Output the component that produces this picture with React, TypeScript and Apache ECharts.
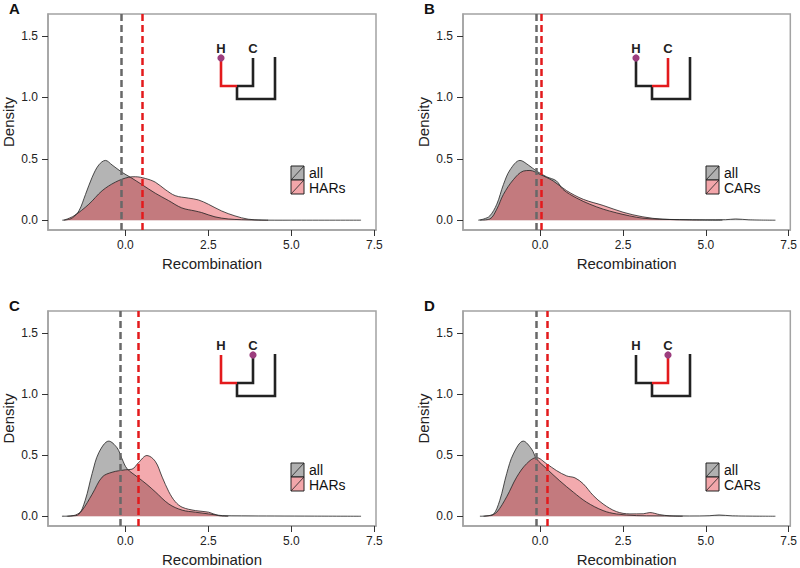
import React, { useEffect, useRef } from "react";
import * as echarts from "echarts";

const X_TICKS = [0, 2.5, 5, 7.5];
const Y_TICKS = [0, 0.5, 1.0, 1.5];

const panelLabels = ["A", "B", "C", "D"];
const groupNames = ["HARs", "CARs", "HARs", "CARs"];

const allA: [number, number][] = [
  [-1.9, 0], [-1.75, 0.004], [-1.6, 0.018], [-1.4, 0.075], [-1.2, 0.21], [-1.0, 0.35], [-0.8, 0.45],
  [-0.6, 0.487], [-0.4, 0.45], [-0.1, 0.39], [0.15, 0.35], [0.5, 0.29], [0.9, 0.22], [1.3, 0.16],
  [1.7, 0.1], [2.1, 0.075], [2.3, 0.062], [2.7, 0.027], [3.1, 0.01], [3.5, 0.004], [4.0, 0.001],
  [5.0, 0], [7.1, 0],
];
const harA: [number, number][] = [
  [-1.85, 0], [-1.55, 0.035], [-1.1, 0.13], [-0.7, 0.24], [-0.3, 0.31], [0.1, 0.35], [0.3, 0.354],
  [0.6, 0.34], [0.9, 0.31], [1.2, 0.25], [1.5, 0.2], [1.9, 0.18], [2.2, 0.165], [2.5, 0.13],
  [2.9, 0.075], [3.3, 0.035], [3.7, 0.008], [4.1, 0.001], [4.3, 0],
];
const allB: [number, number][] = [
  [-1.87, 0], [-1.7, 0.01], [-1.52, 0.035], [-1.31, 0.13], [-1.11, 0.29], [-0.91, 0.41], [-0.61, 0.487],
  [-0.36, 0.45], [-0.11, 0.4], [0.19, 0.354], [0.49, 0.32], [0.69, 0.25], [1.1, 0.18], [1.5, 0.13],
  [1.9, 0.09], [2.3, 0.06], [2.7, 0.035], [3.1, 0.016], [3.6, 0.008], [4.2, 0.005], [5.0, 0.003],
  [5.6, 0.004], [5.9, 0.01], [6.3, 0.003], [7.1, 0],
];
const carB: [number, number][] = [
  [-1.82, 0], [-1.52, 0.01], [-1.31, 0.09], [-1.11, 0.21], [-0.81, 0.33], [-0.51, 0.4], [-0.31, 0.405],
  [-0.01, 0.373], [0.39, 0.32], [0.8, 0.24], [1.3, 0.17], [1.9, 0.12], [2.5, 0.065], [3.1, 0.027],
  [3.7, 0.008], [4.5, 0.002], [5.5, 0],
];
const allC: [number, number][] = [
  [-1.91, 0], [-1.6, 0.003], [-1.41, 0.013], [-1.21, 0.13], [-1.0, 0.35], [-0.8, 0.52], [-0.5, 0.615],
  [-0.25, 0.56], [-0.1, 0.47], [0.05, 0.39], [0.37, 0.32], [0.65, 0.26], [0.9, 0.2], [1.31, 0.1],
  [1.71, 0.05], [2.11, 0.033], [2.51, 0.019], [2.92, 0.005], [3.5, 0.003], [4.5, 0.002], [5.7, 0.001],
  [7.1, 0],
];
const harC: [number, number][] = [
  [-1.75, 0], [-1.5, 0.01], [-1.31, 0.046], [-1.0, 0.18], [-0.7, 0.32], [-0.4, 0.36], [0, 0.38],
  [0.2, 0.385], [0.4, 0.44], [0.65, 0.497], [0.9, 0.45], [1.11, 0.32], [1.31, 0.2], [1.5, 0.12],
  [1.71, 0.074], [2.11, 0.046], [2.51, 0.033], [2.81, 0.005], [3.1, 0],
];
const allD: [number, number][] = [
  [-1.82, 0], [-1.6, 0.003], [-1.42, 0.013], [-1.22, 0.13], [-1.01, 0.35], [-0.81, 0.51], [-0.51, 0.615],
  [-0.26, 0.55], [-0.11, 0.47], [0.19, 0.39], [0.59, 0.29], [1.0, 0.197], [1.4, 0.115], [1.9, 0.046],
  [2.3, 0.019], [2.91, 0.005], [3.5, 0.003], [4.5, 0.002], [5.1, 0.004], [5.4, 0.01], [5.8, 0.003],
  [7.1, 0],
];
const carD: [number, number][] = [
  [-1.71, 0], [-1.5, 0.008], [-1.31, 0.033], [-1.01, 0.16], [-0.71, 0.32], [-0.41, 0.43], [-0.11, 0.48],
  [0.19, 0.43], [0.49, 0.374], [0.8, 0.33], [1.05, 0.314], [1.3, 0.265], [1.6, 0.17], [1.9, 0.1],
  [2.3, 0.038], [2.71, 0.019], [3.11, 0.02], [3.31, 0.03], [3.61, 0.013], [3.91, 0.003], [4.3, 0],
];

const allSeries = [allA, allB, allC, allD];
const groupSeries = [harA, carB, harC, carD];
const allMeans = [-0.13, -0.11, -0.15, -0.13];
const groupMeans = [0.52, 0.04, 0.38, 0.21];
// which branch is red (H or C) and where the dot sits
const redBranch = ["H", "C", "H", "C"];
const dotBranch = ["H", "H", "C", "C"];

const FONT = "Liberation Sans, Arial, sans-serif";
const GRAY_FILL = "rgba(105,105,105,0.5)";
const PINK_FILL = "rgba(222,20,30,0.36)";
const GRAY_KEY = "#b0b0b0";
const PINK_KEY = "#f3a6aa";
const RED = "#e31a1c";
const BOX = "#a3a3a3";

const GRIDS = [
  { left: 48, top: 14 },
  { left: 463, top: 14 },
  { left: 48, top: 311 },
  { left: 463, top: 311 },
];
const GW = 328;
const GH = 216;

function buildGraphics() {
  const els: any[] = [];
  GRIDS.forEach((g, i) => {
    const L = g.left;
    const T = g.top;
    els.push({
      type: "text",
      left: L - 39,
      top: T - 13,
      style: { text: panelLabels[i], font: `bold 15px ${FONT}`, fill: "#111" },
    });
    const kx = L + 243;
    const ky = T + 152;
    [GRAY_KEY, PINK_KEY].forEach((c, k) => {
      els.push({
        type: "rect",
        shape: { x: kx, y: ky + k * 14, width: 13, height: 14 },
        style: { fill: c, stroke: "#222", lineWidth: 1 },
      });
      els.push({
        type: "line",
        shape: { x1: kx, y1: ky + k * 14 + 14, x2: kx + 13, y2: ky + k * 14 },
        style: { stroke: "#222", lineWidth: 0.8 },
      });
    });
    els.push({
      type: "text",
      x: kx + 18,
      y: ky + 7,
      style: { text: "all", font: `14px ${FONT}`, fill: "#111", verticalAlign: "middle" },
    });
    els.push({
      type: "text",
      x: kx + 18,
      y: ky + 21.5,
      style: { text: groupNames[i], font: `14px ${FONT}`, fill: "#111", verticalAlign: "middle" },
    });
    const Hx = L + 173;
    const Cx = L + 205;
    const Mx = L + 189;
    const Ox = L + 227;
    const top = T + 44;
    const join = T + 72;
    const bottom = T + 85;
    const lw = 2.6;
    const hColor = redBranch[i] === "H" ? RED : "#222";
    const cColor = redBranch[i] === "C" ? RED : "#222";
    els.push({
      type: "polyline",
      shape: { points: [[Mx, join], [Mx, bottom], [Ox, bottom], [Ox, T + 43]] },
      style: { stroke: "#222", lineWidth: lw, fill: null },
    });
    const branches = [
      { pts: [[Hx, top], [Hx, join], [Mx, join]], c: hColor },
      { pts: [[Cx, top], [Cx, join], [Mx, join]], c: cColor },
    ].sort((a, b) => (a.c === RED ? 1 : 0) - (b.c === RED ? 1 : 0));
    branches.forEach((b) =>
      els.push({
        type: "polyline",
        shape: { points: b.pts },
        style: { stroke: b.c, lineWidth: lw, fill: null },
      })
    );
    els.push({
      type: "text",
      x: Hx,
      y: T + 34,
      style: { text: "H", font: `bold 13px ${FONT}`, fill: "#222", align: "center", verticalAlign: "middle" },
    });
    els.push({
      type: "text",
      x: Cx,
      y: T + 34,
      style: { text: "C", font: `bold 13px ${FONT}`, fill: "#222", align: "center", verticalAlign: "middle" },
    });
    els.push({
      type: "circle",
      shape: { cx: dotBranch[i] === "H" ? Hx : Cx, cy: top, r: 3.6 },
      style: { fill: "#9c3d7e" },
    });
  });
  return els;
}

export default function App() {
  const ref = useRef<HTMLDivElement>(null);
  useEffect(() => {
    document.body.style.margin = "0";
    if (!ref.current) return;
    const chart = echarts.init(ref.current, null, { renderer: "svg" });
    const grid = GRIDS.map((g) => ({
      left: g.left,
      top: g.top,
      width: GW,
      height: GH,
      show: true,
      borderColor: BOX,
      borderWidth: 1.5,
      backgroundColor: "transparent",
    }));
    const xAxis = GRIDS.map((_, i) => ({
      gridIndex: i,
      type: "value",
      min: -2.33,
      max: 7.55,
      axisLine: { show: true, onZero: false, lineStyle: { color: BOX, width: 1.5 } },
      splitLine: { show: false },
      axisTick: {
        show: true,
        inside: false,
        length: 6,
        lineStyle: { color: "#333", width: 1 },
        customValues: X_TICKS,
      },
      axisLabel: {
        customValues: X_TICKS,
        formatter: (v: number) => v.toFixed(1),
        margin: 9,
        fontSize: 12,
        color: "#222",
        fontFamily: FONT,
      },
      name: "Recombination",
      nameLocation: "middle",
      nameGap: 26,
      nameTextStyle: { fontSize: 15, color: "#222", fontFamily: FONT },
    }));
    const yAxis = GRIDS.map((_, i) => ({
      gridIndex: i,
      type: "value",
      min: -0.08,
      max: 1.68,
      axisLine: { show: true, onZero: false, lineStyle: { color: BOX, width: 1.5 } },
      splitLine: { show: false },
      axisTick: {
        show: true,
        inside: false,
        length: 6,
        lineStyle: { color: "#333", width: 1 },
        customValues: Y_TICKS,
      },
      axisLabel: {
        customValues: Y_TICKS,
        formatter: (v: number) => v.toFixed(1),
        margin: 10,
        fontSize: 12,
        color: "#222",
        fontFamily: FONT,
      },
      name: "Density",
      nameLocation: "middle",
      nameGap: 32,
      nameTextStyle: { fontSize: 15, color: "#222", fontFamily: FONT },
    }));
    const series: any[] = [];
    GRIDS.forEach((_, i) => {
      series.push({
        type: "line",
        xAxisIndex: i,
        yAxisIndex: i,
        data: allSeries[i],
        smooth: 0.35,
        showSymbol: false,
        lineStyle: { color: "#222", width: 0.8 },
        areaStyle: { color: GRAY_FILL, opacity: 1 },
        markLine: {
          silent: true,
          symbol: ["none", "none"],
          label: { show: false },
          lineStyle: { color: "#686868", width: 2.5, type: [7, 4] },
          data: [{ xAxis: allMeans[i] }],
        },
      });
      series.push({
        type: "line",
        xAxisIndex: i,
        yAxisIndex: i,
        data: groupSeries[i],
        smooth: 0.35,
        showSymbol: false,
        lineStyle: { color: "#222", width: 0.8 },
        areaStyle: { color: PINK_FILL, opacity: 1 },
        markLine: {
          silent: true,
          symbol: ["none", "none"],
          label: { show: false },
          lineStyle: { color: RED, width: 2.5, type: [7, 4] },
          data: [{ xAxis: groupMeans[i] }],
        },
      });
    });
    chart.setOption({
      animation: false,
      backgroundColor: "#ffffff",
      textStyle: { fontFamily: FONT },
      grid,
      xAxis,
      yAxis,
      series,
      graphic: buildGraphics(),
    });
    return () => chart.dispose();
  }, []);
  return (
    <div
      ref={ref}
      style={{ width: 800, height: 568, position: "absolute", left: 0, top: 0 }}
    />
  );
}
